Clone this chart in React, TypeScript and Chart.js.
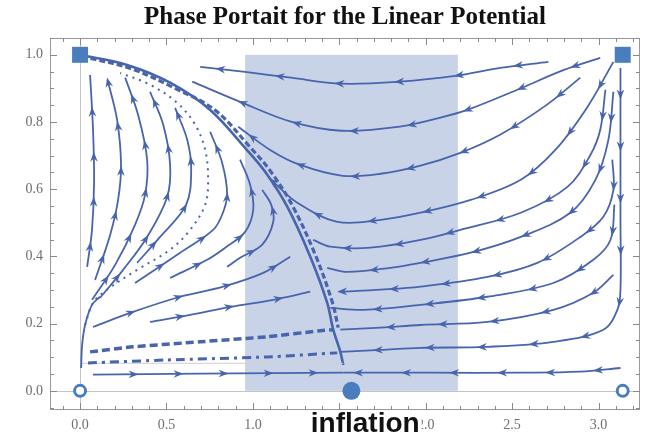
import React, { useEffect, useRef } from "react";
import { Chart, registerables } from "chart.js";
Chart.register(...registerables);

type Pt = [number, number];

// ---- axis / layout values ----
const xRange: Pt = [-0.174, 3.24];
const yRange: Pt = [-0.057, 1.05];
const xTickValues = [0, 0.5, 1, 1.5, 2, 2.5, 3];
const yTickValues = [0, 0.2, 0.4, 0.6, 0.8, 1.0];
const xMinorStep = 0.1;
const yMinorStep = 0.05;
const shadeBand: Pt = [0.955, 2.186];
const shadeTop = 1.0;
const titleText = "Phase Portait for the Linear Potential";
const annotationText = "inflation";
const annotationX = 1.65;

// ---- streamlines flowing left (from the right) ----
const R1: Pt[] = [[2.71, 0.979], [2.43, 0.961], [2.18, 0.938], [1.85, 0.92], [1.51, 0.914], [1.22, 0.932], [0.955, 0.949], [0.695, 0.964]];
const R2: Pt[] = [[3.01, 0.991], [2.8, 0.955], [2.53, 0.896], [2.24, 0.836], [2.085, 0.813], [1.85, 0.786], [1.51, 0.774], [1.22, 0.801], [0.926, 0.86], [0.649, 0.92]];
const R3: Pt[] = [[2.895, 0.932], [2.7, 0.851], [2.43, 0.762], [2.2, 0.708], [1.97, 0.67], [1.74, 0.646], [1.52, 0.64], [1.27, 0.673], [1.1, 0.717], [0.915, 0.786]];
const R4: Pt[] = [[3.086, 0.979], [2.936, 0.845], [2.75, 0.717], [2.55, 0.628], [2.26, 0.568], [1.97, 0.53], [1.74, 0.509], [1.49, 0.503], [1.257, 0.56], [1.118, 0.622]];
const R5: Pt[] = [[3.04, 0.896], [3.01, 0.777], [2.953, 0.702], [2.82, 0.607], [2.55, 0.53], [2.2, 0.479], [1.97, 0.449], [1.68, 0.426], [1.448, 0.429], [1.349, 0.449]];
const R6: Pt[] = [[3.086, 0.89], [3.057, 0.747], [2.982, 0.628], [2.837, 0.53], [2.55, 0.458], [2.26, 0.411], [1.97, 0.381], [1.795, 0.366], [1.546, 0.354], [1.43, 0.366]];
const R7: Pt[] = [[3.08, 0.688], [3.086, 0.598], [3.028, 0.518], [2.895, 0.458], [2.646, 0.381], [2.357, 0.339], [1.97, 0.31], [1.74, 0.301], [1.506, 0.295]];
const R8: Pt[] = [[3.092, 0.554], [3.069, 0.449], [2.97, 0.39], [2.739, 0.321], [2.357, 0.28], [1.97, 0.256], [1.64, 0.241], [1.448, 0.247]];
const R9: Pt[] = [[3.086, 0.345], [2.97, 0.292], [2.739, 0.241], [2.357, 0.205], [1.97, 0.196], [1.74, 0.188], [1.506, 0.182]];
const R10: Pt[] = [[3.127, 0.961], [3.127, 0.717], [3.127, 0.509], [3.127, 0.301], [3.109, 0.241], [3.028, 0.182], [2.739, 0.146], [2.357, 0.131], [1.97, 0.128], [1.74, 0.122], [1.506, 0.116]];
const R11: Pt[] = [[3.127, 0.068], [2.895, 0.057], [2.548, 0.054], [2.027, 0.054], [1.523, 0.054]];

// ---- arcs rising on the left ----
const L1: Pt[] = [[0.041, 0.369], [0.069, 0.479], [0.081, 0.619], [0.075, 0.777], [0.058, 0.94]];
const L2: Pt[] = [[0.087, 0.33], [0.174, 0.464], [0.22, 0.568], [0.237, 0.673], [0.214, 0.807], [0.162, 0.92]];
const L3: Pt[] = [[0.069, 0.271], [0.203, 0.375], [0.318, 0.494], [0.376, 0.583], [0.388, 0.688], [0.336, 0.821], [0.261, 0.932]];
const L4: Pt[] = [[0.116, 0.277], [0.249, 0.36], [0.388, 0.458], [0.504, 0.577], [0.521, 0.673], [0.481, 0.792], [0.405, 0.89]];
const L5: Pt[] = [[0.33, 0.381], [0.463, 0.458], [0.614, 0.554], [0.643, 0.658], [0.62, 0.747], [0.55, 0.842]];
const L6: Pt[] = [[0.318, 0.321], [0.579, 0.411], [0.77, 0.479], [0.822, 0.524], [0.851, 0.583], [0.822, 0.679], [0.753, 0.771]];
const L7: Pt[] = [[0.521, 0.336], [0.735, 0.39], [0.84, 0.426], [0.955, 0.473], [1.002, 0.539], [0.984, 0.613], [0.926, 0.688]];
const L8: Pt[] = [[0.851, 0.369], [0.926, 0.396], [1.054, 0.435], [1.118, 0.503], [1.106, 0.554], [1.054, 0.598]];
const dottedArc: Pt[] = [[0.029, 0.196], [0.075, 0.262], [0.156, 0.301], [0.33, 0.36], [0.521, 0.42], [0.637, 0.479], [0.724, 0.554], [0.741, 0.628], [0.724, 0.717], [0.666, 0.792], [0.562, 0.857], [0.405, 0.911], [0.232, 0.946]];
const edgeLine: Pt[] = [[0.006, 0.068], [0.012, 0.137], [0.029, 0.196], [0.069, 0.256], [0.116, 0.28]];

// ---- lines flowing right near the bottom ----
const F1: Pt[] = [[0.075, 0.19], [0.29, 0.232], [0.579, 0.28], [0.828, 0.31], [1.06, 0.351], [1.216, 0.399]];
const F2: Pt[] = [[0.405, 0.205], [0.637, 0.226], [0.869, 0.25], [1.118, 0.271], [1.332, 0.295]];
const dashedLine: Pt[] = [[0.058, 0.116], [0.307, 0.131], [0.695, 0.146], [1.083, 0.161], [1.39, 0.179], [1.465, 0.182]];
const dashDotLine: Pt[] = [[0.046, 0.083], [0.504, 0.092], [1.083, 0.101], [1.488, 0.113]];
const F5: Pt[] = [[0.075, 0.048], [0.695, 0.051], [1.523, 0.054]];
const guideLine: Pt[] = [[0, 0.082], [1.523, 0.082]];

// ---- separatrix ----
const separatrix: Pt[] = [[0, 1], [0.272, 0.97], [0.521, 0.917], [0.753, 0.836], [0.955, 0.723], [1.071, 0.652], [1.199, 0.548], [1.332, 0.399], [1.43, 0.262], [1.465, 0.182], [1.506, 0.116], [1.523, 0.077]];
const separatrix2: Pt[] = [[0.06, 0.99], [0.3, 0.958], [0.55, 0.9], [0.782, 0.835], [0.984, 0.725], [1.1, 0.655], [1.228, 0.552], [1.361, 0.405], [1.459, 0.265], [1.494, 0.188]];

// ---- fixed points ----
const squarePoints: Pt[] = [[0, 1], [3.14, 1]];
const openPoints: Pt[] = [[0, 0], [3.14, 0]];
const filledPoints: Pt[] = [[1.57, 0]];

const STREAM = "rgb(72,100,172)";
const MARK = "rgb(73,125,190)";
const SHADE = "rgb(200,211,232)";
const LABEL = "#6e6e6e";

const toXY = (a: Pt[]) => a.map(([x, y]) => ({ x, y }));

function stream(data: Pt[], extra: any = {}) {
  return {
    data: toXY(data),
    showLine: true,
    borderColor: STREAM,
    backgroundColor: STREAM,
    borderWidth: 1.8,
    pointRadius: 0,
    pointHoverRadius: 0,
    tension: 0.35,
    fill: false,
    order: 2,
    arrows: true,
    ...extra,
  };
}

function densify(meta: any): number[][] {
  const els = meta.data;
  const out: number[][] = [];
  for (let k = 0; k < els.length; k++) {
    const b = els[k];
    if (k === 0) {
      out.push([b.x, b.y]);
      continue;
    }
    const a = els[k - 1];
    const cp = a.cp2x !== undefined && b.cp1x !== undefined;
    for (let s = 1; s <= 12; s++) {
      const t = s / 12;
      if (cp) {
        const u = 1 - t;
        const px = u * u * u * a.x + 3 * u * u * t * a.cp2x + 3 * u * t * t * b.cp1x + t * t * t * b.x;
        const py = u * u * u * a.y + 3 * u * u * t * a.cp2y + 3 * u * t * t * b.cp1y + t * t * t * b.y;
        out.push([px, py]);
      } else {
        out.push([a.x + (b.x - a.x) * t, a.y + (b.y - a.y) * t]);
      }
    }
  }
  return out;
}

const arrowPlugin = {
  id: "arrowHeads",
  afterDatasetsDraw(chart: any) {
    const ctx = chart.ctx;
    ctx.save();
    chart.data.datasets.forEach((ds: any, i: number) => {
      if (!ds.arrows) return;
      const meta = chart.getDatasetMeta(i);
      const pts = densify(meta);
      const spacing = ds.arrowSpacing || 52;
      let next = ds.arrowOffset || 26;
      let acc = 0;
      ctx.fillStyle = ds.borderColor;
      for (let k = 1; k < pts.length; k++) {
        const [ax, ay] = pts[k - 1];
        const [bx, by] = pts[k];
        const dx = bx - ax, dy = by - ay;
        const len = Math.hypot(dx, dy);
        if (len === 0) continue;
        while (acc + len >= next) {
          const t = (next - acc) / len;
          const cx = ax + dx * t, cy = ay + dy * t;
          const ang = Math.atan2(dy, dx);
          const c = Math.cos(ang), s = Math.sin(ang);
          const L = 5.5, B = 4.5, W = 3.8;
          ctx.beginPath();
          ctx.moveTo(cx + c * L, cy + s * L);
          ctx.lineTo(cx - c * B - s * W, cy - s * B + c * W);
          ctx.lineTo(cx - c * B * 0.3, cy - s * B * 0.3);
          ctx.lineTo(cx - c * B + s * W, cy - s * B - c * W);
          ctx.closePath();
          ctx.fill();
          next += spacing;
        }
        acc += len;
      }
    });
    ctx.restore();
  },
};

const framePlugin = {
  id: "frameAndShade",
  beforeDatasetsDraw(chart: any) {
    const { ctx, chartArea: a, scales } = chart;
    const x = scales.x, y = scales.y;
    ctx.save();
    const x0 = x.getPixelForValue(shadeBand[0]);
    const x1 = x.getPixelForValue(shadeBand[1]);
    const y0 = y.getPixelForValue(0);
    const y1 = y.getPixelForValue(shadeTop);
    ctx.fillStyle = SHADE;
    ctx.fillRect(x0, y1, x1 - x0, y0 - y1);
    ctx.strokeStyle = "#c4c4c4";
    ctx.lineWidth = 1;
    ctx.beginPath();
    const zx = Math.round(x.getPixelForValue(0)) + 0.5;
    const zy = Math.round(y.getPixelForValue(0)) + 0.5;
    ctx.moveTo(a.left, zy);
    ctx.lineTo(a.right, zy);
    ctx.moveTo(zx, a.top);
    ctx.lineTo(zx, a.bottom);
    ctx.stroke();
    ctx.restore();
  },
  afterDraw(chart: any) {
    const { ctx, chartArea: a, scales } = chart;
    const x = scales.x, y = scales.y;
    ctx.save();
    ctx.strokeStyle = "#9a9a9a";
    ctx.lineWidth = 1;
    ctx.strokeRect(a.left + 0.5, a.top + 0.5, a.width - 1, a.height - 1);
    ctx.strokeStyle = "#8a8a8a";
    ctx.beginPath();
    const n = Math.round((xRange[1] - xRange[0]) / xMinorStep) + 2;
    const startX = Math.ceil(xRange[0] / xMinorStep);
    for (let k = startX; k < startX + n; k++) {
      const v = k * xMinorStep;
      if (v > xRange[1]) break;
      const major = Math.abs(v / 0.5 - Math.round(v / 0.5)) < 1e-6;
      const len = major ? 7 : 4;
      const px = Math.round(x.getPixelForValue(v)) + 0.5;
      ctx.moveTo(px, a.bottom);
      ctx.lineTo(px, a.bottom - len);
      ctx.moveTo(px, a.top);
      ctx.lineTo(px, a.top + len);
    }
    const ny = Math.round((yRange[1] - yRange[0]) / yMinorStep) + 2;
    const startY = Math.ceil(yRange[0] / yMinorStep);
    for (let k = startY; k < startY + ny; k++) {
      const v = k * yMinorStep;
      if (v > yRange[1]) break;
      const major = Math.abs(v / 0.2 - Math.round(v / 0.2)) < 1e-6;
      const len = major ? 7 : 4;
      const py = Math.round(y.getPixelForValue(v)) + 0.5;
      ctx.moveTo(a.left, py);
      ctx.lineTo(a.left + len, py);
      ctx.moveTo(a.right, py);
      ctx.lineTo(a.right - len, py);
    }
    ctx.stroke();

    // annotation
    ctx.font = "bold 28px 'Liberation Sans', Arial, sans-serif";
    const w = ctx.measureText(annotationText).width;
    const cx = x.getPixelForValue(annotationX);
    ctx.fillStyle = "#ffffff";
    ctx.fillRect(cx - w / 2 - 3, a.bottom + 1, w + 5, chart.height - a.bottom - 1);
    ctx.fillStyle = "#111111";
    ctx.textAlign = "center";
    ctx.textBaseline = "alphabetic";
    ctx.fillText(annotationText, cx, chart.height - 3);
    ctx.restore();
  },
};

export default function App() {
  const ref = useRef<HTMLCanvasElement | null>(null);
  useEffect(() => {
    document.body.style.margin = "0";
    if (!ref.current) return;
    const datasets: any[] = [
      {
        data: toXY(squarePoints),
        pointStyle: "rect",
        pointRadius: 11.3,
        backgroundColor: MARK,
        borderColor: MARK,
        borderWidth: 0,
        showLine: false,
        order: 0,
      },
      {
        data: toXY(openPoints),
        pointStyle: "circle",
        pointRadius: 5.5,
        backgroundColor: "#ffffff",
        borderColor: MARK,
        borderWidth: 3,
        showLine: false,
        order: 0,
      },
      {
        data: toXY(filledPoints),
        pointStyle: "circle",
        pointRadius: 9,
        backgroundColor: MARK,
        borderColor: MARK,
        borderWidth: 0,
        showLine: false,
        order: 0,
      },
      stream(R1, { arrowSpacing: 60, arrowOffset: 30 }), stream(R2, { arrowSpacing: 58 }), stream(R3, { arrowSpacing: 56 }),
      stream(R4, { arrowSpacing: 56 }), stream(R5), stream(R6),
      stream(R7), stream(R8), stream(R9), stream(R10), stream(R11, { arrowSpacing: 48, arrowOffset: 22 }),
      stream(L1, { arrowSpacing: 45, arrowOffset: 20 }),
      stream(L2, { arrowSpacing: 45, arrowOffset: 22 }),
      stream(L3, { arrowSpacing: 48, arrowOffset: 24 }),
      stream(L4, { arrowSpacing: 48, arrowOffset: 26 }),
      stream(L5, { arrowSpacing: 48, arrowOffset: 24 }),
      stream(L6, { arrowSpacing: 50, arrowOffset: 30 }),
      stream(L7, { arrowSpacing: 50, arrowOffset: 30 }),
      stream(L8, { arrowSpacing: 50, arrowOffset: 28 }),
      stream(dottedArc, { arrows: false, borderDash: [2, 5], borderWidth: 2 }),
      stream(edgeLine, { arrows: false }),
      stream(F1, { arrowSpacing: 50, arrowOffset: 40 }),
      stream(F2, { arrowSpacing: 50, arrowOffset: 30 }),
      stream(dashedLine, { arrows: false, borderDash: [8, 4], borderWidth: 3.5, tension: 0.2 }),
      stream(dashDotLine, { arrows: false, borderDash: [9, 5, 3, 5], borderWidth: 3, tension: 0.2 }),
      stream(F5, { arrowSpacing: 45, arrowOffset: 40, tension: 0.1 }),
      stream(guideLine, { arrows: false, borderColor: "#cfcfcf", borderWidth: 1, tension: 0 }),
      stream(separatrix, { arrows: false, borderWidth: 2.6 }),
      stream(separatrix2, { arrows: false, borderWidth: 3.2, borderDash: [6, 3] }),
    ];
    const labelFont = { family: "'Liberation Serif', 'Times New Roman', serif", size: 14 };
    const chart = new Chart(ref.current, {
      type: "scatter",
      data: { datasets },
      plugins: [framePlugin, arrowPlugin],
      options: {
        animation: false,
        responsive: true,
        maintainAspectRatio: false,
        events: [],
        layout: { padding: { left: 0, right: 12, top: 0, bottom: 0 } },
        plugins: {
          legend: { display: false },
          tooltip: { enabled: false },
          title: {
            display: true,
            text: titleText,
            fullSize: false,
            color: "#111111",
            font: { family: "'Liberation Serif', 'Times New Roman', serif", size: 25, weight: "bold" },
            padding: { top: 3, bottom: 5 },
          },
        },
        scales: {
          x: {
            type: "linear",
            min: xRange[0],
            max: xRange[1],
            grid: { display: false, drawTicks: false },
            border: { display: false },
            afterBuildTicks: (s: any) => {
              s.ticks = xTickValues.map((v) => ({ value: v }));
            },
            afterFit: (s: any) => {
              s.height = 25;
            },
            ticks: {
              callback: (v: any) => Number(v).toFixed(1),
              font: labelFont,
              color: LABEL,
              padding: 7,
              maxRotation: 0,
              autoSkip: false,
            },
          },
          y: {
            type: "linear",
            min: yRange[0],
            max: yRange[1],
            grid: { display: false, drawTicks: false },
            border: { display: false },
            afterBuildTicks: (s: any) => {
              s.ticks = yTickValues.map((v) => ({ value: v }));
            },
            afterFit: (s: any) => {
              s.width = 50;
            },
            ticks: {
              callback: (v: any) => Number(v).toFixed(1),
              font: labelFont,
              color: LABEL,
              padding: 7,
              autoSkip: false,
            },
          },
        },
      } as any,
    });
    return () => chart.destroy();
  }, []);
  return (
    <div style={{ width: 652, height: 435, position: "relative" }}>
      <canvas ref={ref} />
    </div>
  );
}
